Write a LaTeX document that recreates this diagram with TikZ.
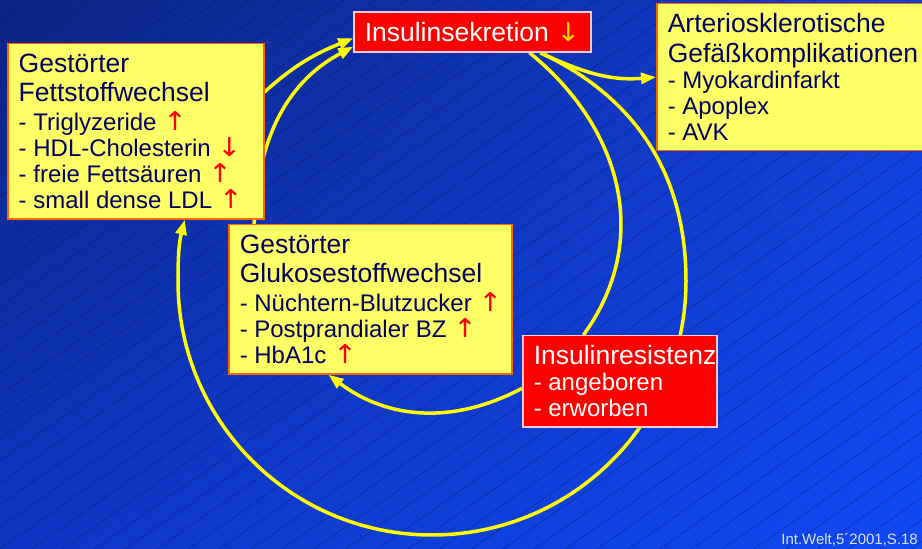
\documentclass[tikz,border=0pt]{standalone}
\usepackage{fontspec}
\setmainfont{Liberation Sans}
\newfontfamily\pfeilschrift{DejaVu Sans}
\usepackage{xcolor}
\usepackage{graphicx}
\usetikzlibrary{arrows.meta,shadings}
\definecolor{gelbfill}{RGB}{255,255,102}
\definecolor{gelbrand}{RGB}{255,102,0}
\definecolor{rotfill}{RGB}{255,0,0}
\definecolor{rotrand}{RGB}{255,204,204}
\definecolor{schrift}{RGB}{0,0,96}
\definecolor{linie}{RGB}{255,255,0}
\definecolor{sekpfeil}{RGB}{255,210,0}
\definecolor{quellfarbe}{RGB}{215,225,255}
\definecolor{bgA}{RGB}{12,36,130}
\definecolor{bgB}{RGB}{18,62,212}
\definecolor{bgC}{RGB}{14,54,196}
\definecolor{bgD}{RGB}{16,72,242}
\definecolor{strich}{RGB}{8,20,80}
\pgfdeclarelayer{bg}
\pgfdeclarelayer{back}
\pgfsetlayers{bg,back,main}
\newcommand{\titel}{\fontsize{26.5}{29.5}\selectfont}
\newcommand{\punkt}{\fontsize{24}{26}\selectfont}
\newcommand{\pfeilzeichen}[1]{\smash{\pfeilschrift\fontsize{26}{26}\selectfont\scalebox{1.1}[1]{#1}}}
\newcommand{\hoch}{{\color{red}\pfeilzeichen{↑}}}
\newcommand{\runter}{{\color{red}\pfeilzeichen{↓}}}
\tikzset{
  box/.style={draw, line width=1.5pt, align=flush left, inner xsep=11pt, inner ysep=10pt, anchor=north west},
  gelbbox/.style={box, fill=gelbfill, draw=gelbrand, text=schrift},
  rotbox/.style={box, fill=rotfill, draw=rotrand, text=white},
  verbindung/.style={linie, line width=3.5pt},
  pfeil/.style={verbindung, -{Triangle[length=15pt,width=11pt]}},
  schraffur/.style={strich, line width=0.5pt, opacity=0.45}
}

\begin{document}
\begin{tikzpicture}[x=1pt, y=1pt]

\useasboundingbox (0,0) rectangle (922,549);

\begin{pgfonlayer}{bg}
\shade[upper left=bgA, upper right=bgB, lower left=bgC, lower right=bgD] (0,0) rectangle (922,549);
\begin{scope}
\clip (0,0) rectangle (922,549);
\foreach \c in {-660,-638,...,560}
  \draw[schraffur] (0,\c) -- (922,\c+645.4);
\end{scope}
\end{pgfonlayer}

\node (sek) [rotbox, anchor=center, align=center, inner sep=0pt,
             minimum width=237pt, minimum height=40pt] at (472.5,517)
{\titel Insulinsekretion~{\color{sekpfeil}\pfeilzeichen{↓}}};

\node (fett) [gelbbox, text width=234pt] at (7,506)
{{\titel Gestörter\\Fettstoffwechsel\par}\vskip3pt
 {\punkt - Triglyzeride~\hoch\\- HDL-Cholesterin~\runter\\- freie Fettsäuren~\hoch\\- small dense LDL~\hoch\par}};

\node (art) [gelbbox, text width=244pt] at (656,546)
{{\titel Arteriosklerotische\\\mbox{Gefäßkomplikationen}\par}
 {\punkt - Myokardinfarkt\\- Apoplex\\- AVK\par}};

\node (glu) [gelbbox, text width=261pt] at (228,325)
{{\titel Gestörter\\Glukosestoffwechsel\par}\vskip3pt
 {\punkt \mbox{- Nüchtern-Blutzucker~\hoch}\\- Postprandialer BZ~\hoch\\- HbA1c~\hoch\par}};

\node (res) [rotbox, text width=172pt] at (522,214)
{{\titel \mbox{Insulinresistenz}\par}
 {\punkt - angeboren\\- erworben\par}};

\node (quelle) [anchor=base east, inner sep=0pt, text=quellfarbe,
                font=\fontsize{15}{18}\selectfont] at (918,4)
{Int.Welt,5´2001,S.18};

\coordinate (rechts) at (686,268);
\coordinate (unten) at (432,14);
\coordinate (links) at (178,268);

\begin{pgfonlayer}{back}
\draw[pfeil] (fett.17) to[out=42,in=202] (sek.183);
\draw[pfeil] (glu.147) to[out=88,in=208] (sek.187);
\draw[verbindung] (sek.340) to[out=-39,in=54,looseness=1.05] (res.128);
\draw[pfeil] (res.184) to[out=208,in=-37] (glu.241);
\draw[pfeil] (sek.343) to[out=-25,in=90] (rechts) to[out=-90,in=0] (unten)
  to[out=180,in=-90] (links) to[out=90,in=256] (fett.299);
\draw[pfeil] (sek.343) to[out=-25,in=185] (art.west);
\end{pgfonlayer}

\end{tikzpicture}
\end{document}
